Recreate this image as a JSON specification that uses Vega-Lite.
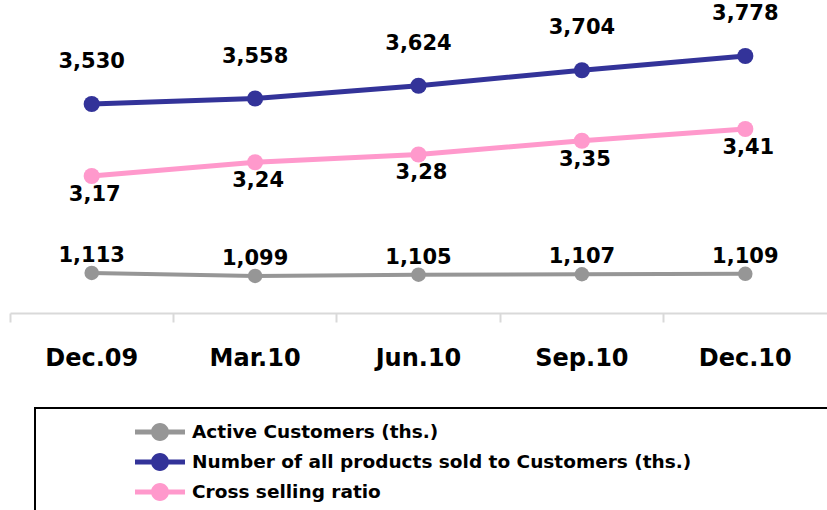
{
  "$schema": "https://vega.github.io/schema/vega-lite/v6.json",
  "autosize": "none",
  "padding": {"left": 10, "top": 0, "right": 0, "bottom": 197},
  "width": 817,
  "height": 313,
  "background": "white",
  "config": {
    "view": {"stroke": null},
    "font": "DejaVu Sans"
  },
  "data": {
    "values": [
      {"period": "Dec.09", "series": "Active Customers (ths.)", "value": 1113},
      {"period": "Mar.10", "series": "Active Customers (ths.)", "value": 1099},
      {"period": "Jun.10", "series": "Active Customers (ths.)", "value": 1105},
      {"period": "Sep.10", "series": "Active Customers (ths.)", "value": 1107},
      {"period": "Dec.10", "series": "Active Customers (ths.)", "value": 1109},
      {"period": "Dec.09", "series": "Number of all products sold to Customers (ths.)", "value": 3530},
      {"period": "Mar.10", "series": "Number of all products sold to Customers (ths.)", "value": 3558},
      {"period": "Jun.10", "series": "Number of all products sold to Customers (ths.)", "value": 3624},
      {"period": "Sep.10", "series": "Number of all products sold to Customers (ths.)", "value": 3704},
      {"period": "Dec.10", "series": "Number of all products sold to Customers (ths.)", "value": 3778},
      {"period": "Dec.09", "series": "Cross selling ratio", "value": 3.17},
      {"period": "Mar.10", "series": "Cross selling ratio", "value": 3.24},
      {"period": "Jun.10", "series": "Cross selling ratio", "value": 3.28},
      {"period": "Sep.10", "series": "Cross selling ratio", "value": 3.35},
      {"period": "Dec.10", "series": "Cross selling ratio", "value": 3.41}
    ]
  },
  "encoding": {
    "x": {
      "field": "period",
      "type": "nominal",
      "sort": null,
      "scale": {"type": "band", "paddingInner": 0, "paddingOuter": 0},
      "axis": {
        "title": null,
        "labelAngle": 0,
        "labelFont": "DejaVu Sans",
        "labelFontSize": 24,
        "labelFontWeight": "bold",
        "labelColor": "black",
        "labelPadding": 24,
        "domainColor": "#d9d9d9",
        "domainWidth": 2,
        "tickColor": "#d9d9d9",
        "tickWidth": 2,
        "tickSize": 9,
        "bandPosition": 0,
        "grid": false
      }
    },
    "color": {
      "field": "series",
      "type": "nominal",
      "scale": {
        "domain": ["Active Customers (ths.)", "Number of all products sold to Customers (ths.)", "Cross selling ratio"],
        "range": ["#969696", "#333399", "#ff99cc"]
      },
      "legend": {
        "title": "\u00a0",
        "titleOrient": "right",
        "titleFontSize": 18,
        "titlePadding": 140,
        "titleLimit": 0,
        "orient": "none",
        "legendX": 25,
        "legendY": 408,
        "padding": 14,
        "strokeColor": "black",
        "fillColor": "white",
        "cornerRadius": 0,
        "labelFont": "DejaVu Sans",
        "labelFontSize": 18.5,
        "labelFontWeight": "bold",
        "labelColor": "black",
        "labelLimit": 0,
        "symbolType": "M-2.5,-0.25L2.5,-0.25L2.5,0.25L-2.5,0.25Z M0.9,0A0.9,0.9,0,1,1,-0.9,0A0.9,0.9,0,1,1,0.9,0Z",
        "symbolSize": 400,
        "symbolStrokeWidth": 0,
        "symbolOffset": 101,
        "labelOffset": 22,
        "rowPadding": 10,
        "encode": {
          "legend": {
            "update": {"strokeWidth": {"value": 2}}
          },
          "symbols": {
            "update": {
              "fill": {"scale": "color", "field": "value"},
              "stroke": {"value": "transparent"},
              "opacity": {"value": 1}
            }
          }
        }
      }
    }
  },
  "layer": [
    {
      "transform": [{"filter": "datum.series === 'Active Customers (ths.)'"}],
      "encoding": {
        "y": {"field": "value", "type": "quantitative", "scale": {"domain": [926, 2388], "zero": false, "nice": false}, "axis": null}
      },
      "layer": [
        {"mark": {"type": "line", "strokeWidth": 4}},
        {"mark": {"type": "point", "filled": true, "opacity": 1, "size": 210}},
        {
          "mark": {"type": "text", "dy": -17, "fontSize": 21, "fontWeight": "bold", "color": "black", "font": "DejaVu Sans"},
          "encoding": {"text": {"field": "value", "type": "quantitative", "format": ",.0f"}, "color": {"value": "black"}}
        }
      ]
    },
    {
      "transform": [{"filter": "datum.series === 'Number of all products sold to Customers (ths.)'"}],
      "encoding": {
        "y": {"field": "value", "type": "quantitative", "scale": {"domain": [2450, 4067], "zero": false, "nice": false}, "axis": null}
      },
      "layer": [
        {"mark": {"type": "line", "strokeWidth": 5}},
        {"mark": {"type": "point", "filled": true, "opacity": 1, "size": 260}},
        {
          "mark": {"type": "text", "dy": -42, "fontSize": 21, "fontWeight": "bold", "color": "black", "font": "DejaVu Sans"},
          "encoding": {"text": {"field": "value", "type": "quantitative", "format": ",.0f"}, "color": {"value": "black"}}
        }
      ]
    },
    {
      "transform": [{"filter": "datum.series === 'Cross selling ratio'"}],
      "encoding": {
        "y": {"field": "value", "type": "quantitative", "scale": {"domain": [2.47, 4.069], "zero": false, "nice": false}, "axis": null}
      },
      "layer": [
        {"mark": {"type": "line", "strokeWidth": 5}},
        {"mark": {"type": "point", "filled": true, "opacity": 1, "size": 260}},
        {
          "transform": [{"calculate": "replace(toString(datum.value), '.', ',')", "as": "label"}],
          "mark": {"type": "text", "dy": 19, "dx": 3, "fontSize": 21, "fontWeight": "bold", "color": "black", "font": "DejaVu Sans"},
          "encoding": {"text": {"field": "label", "type": "nominal"}, "color": {"value": "black"}}
        }
      ]
    }
  ],
  "resolve": {"scale": {"y": "independent"}}
}
